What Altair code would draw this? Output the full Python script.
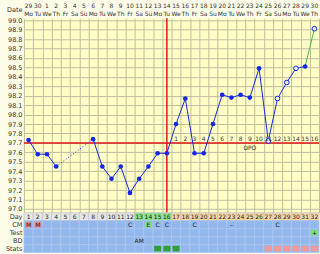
import altair as alt
import pandas as pd

# ---------------- data ----------------
days = [1, 2, 3, 4, 5, 6, 7, 8, 9, 10, 11, 12, 13, 14, 15, 16,
        17, 18, 19, 20, 21, 22, 23, 24, 25, 26, 27, 28, 29, 30, 31, 32]
date_numbers = ["29", "30", "1", "2", "3", "4", "5", "6", "7", "8", "9", "10",
                "11", "12", "13", "14", "15", "16", "17", "18", "19", "20", "21",
                "22", "23", "24", "25", "26", "27", "28", "29", "30"]
weekdays = ["Mo", "Tu", "We", "Th", "Fr", "Sa", "Su", "Mo", "Tu", "We", "Th",
            "Fr", "Sa", "Su", "Mo", "Tu", "We", "Th", "Fr", "Sa", "Su", "Mo",
            "Tu", "We", "Th", "Fr", "Sa", "Su", "Mo", "Tu", "We", "Th"]
temps = [97.73, 97.58, 97.58, 97.45, None, None, None, 97.74, 97.45, 97.32,
         97.45, 97.17, 97.32, 97.45, 97.59, 97.59, 97.90, 98.17, 97.59, 97.59,
         97.90, 98.21, 98.18, 98.21, 98.18, 98.49, 97.72, 98.17, 98.34, 98.49,
         98.51, 98.91]
hollow_days = [27, 28, 29, 30, 32]
dotted_days = [4, 8]
green_days = [31, 32]
coverline = [97.7]
ovulation_day = [16]
dpo_days = [17, 18, 19, 20, 21, 22, 23, 24, 25, 26, 27, 28, 29, 30, 31, 32]
dpo_numbers = ["1", "2", "3", "4", "5", "6", "7", "8", "9", "10", "11", "12",
               "13", "14", "15", "16"]
dpo_label_day = [25]
temp_ticks = [97.0, 97.1, 97.2, 97.3, 97.4, 97.5, 97.6, 97.7, 97.8, 97.9, 98.0,
              98.1, 98.2, 98.3, 98.4, 98.5, 98.6, 98.7, 98.8, 98.9, 99.0]

fertile_days = [13, 14, 15, 16]
row_names = ["Day", "CM", "Test", "BD", "Stats"]
cm_days = [1, 2, 12, 14, 15, 16, 19, 23, 28]
cm_text = ["M", "M", "C", "E", "C", "C", "C", "\u2013", "C"]
cm_box_days = [1, 2, 14]
cm_box_colors = ["#f08a8a", "#f08a8a", "#7ce07c"]
test_days = [32]
test_text = ["+"]
bd_days = [13]
bd_text = ["AM"]
stats_green_days = [15, 16, 17]
stats_red_days = [27, 28, 29, 30, 31, 32]

# ---------------- styles ----------------
BG = "#fcfce8"
PLOT = "#ffffc6"
GRID = "#bfbfa2"
BLUE = "#1428e6"
GREEN_LINE = "#44c044"
RED = "#e01818"
CELL_BLUE = "#92b8ee"
TXT = "#333333"
FONT = "DejaVu Sans"

xs = alt.Scale(domain=[0, 32], nice=False, zero=False)
ys = alt.Scale(domain=[96.96, 99.02], nice=False, zero=False)

x_grid_axis = alt.Axis(values=list(range(33)), grid=True, gridColor=GRID,
                       labels=False, ticks=False, domain=False, title=None,
                       minExtent=0, maxExtent=0)
y_axis = alt.Axis(values=temp_ticks, format=".1f", grid=True, gridColor=GRID,
                  ticks=False, domain=False, title=None, labelPadding=2,
                  minExtent=24, maxExtent=24, labelFontSize=6.5)

# ---------------- header ----------------
hdf = pd.DataFrame({"c": [d - 0.5 for d in days], "num": date_numbers, "wd": weekdays})
hys = alt.Scale(domain=[0, 2], nice=False, zero=False)
h_axis = alt.Axis(values=[1], labelExpr="'Date'", ticks=False, domain=False,
                  grid=False, title=None, labelPadding=2, minExtent=24,
                  maxExtent=24, labelFontSize=6.5)
h_num = alt.Chart(hdf).mark_text(fontSize=6, color=TXT, font=FONT).encode(
    x=alt.X("c:Q", scale=xs, axis=None),
    y=alt.YDatum(1.4, scale=hys, axis=h_axis),
    text="num:N",
)
h_wd = alt.Chart(hdf).mark_text(fontSize=6, color=TXT, font=FONT).encode(
    x=alt.X("c:Q", scale=xs, axis=None),
    y=alt.YDatum(0.5, scale=hys, axis=h_axis),
    text="wd:N",
)
header = alt.layer(h_num, h_wd).properties(width=296, height=18)

# ---------------- main plot ----------------
tdf = pd.DataFrame({"day": days, "t": temps})
tdf["c"] = tdf["day"] - 0.5
tdf = tdf.dropna()
solid = tdf[(tdf["day"] <= 4) | ((tdf["day"] >= 8) & (tdf["day"] <= 31))].copy()
solid["seg"] = ["a" if d <= 4 else "b" for d in solid["day"]]
dotted = tdf[tdf["day"].isin(dotted_days)]
green = tdf[tdf["day"].isin(green_days)]
filled_pts = tdf[~tdf["day"].isin(hollow_days)]
hollow_pts = tdf[tdf["day"].isin(hollow_days)]

X = alt.X("c:Q", scale=xs, axis=x_grid_axis)
Y = alt.Y("t:Q", scale=ys, axis=y_axis)

cover_df = pd.DataFrame({"t": coverline})
ov_df = pd.DataFrame({"c": [d - 0.5 for d in ovulation_day]})
dpo_df = pd.DataFrame({"c": [d - 0.5 for d in dpo_days], "n": dpo_numbers})
dpo_lab = pd.DataFrame({"c": [d - 0.5 for d in dpo_label_day], "s": ["DPO"]})

l_line = alt.Chart(solid).mark_line(color=BLUE, strokeWidth=1).encode(x=X, y=Y, detail="seg:N")
l_dot = alt.Chart(dotted).mark_line(color=BLUE, strokeWidth=1, strokeDash=[1, 2]).encode(x=X, y=Y)
l_green = alt.Chart(green).mark_line(color=GREEN_LINE, strokeWidth=1).encode(x=X, y=Y)
l_cover = alt.Chart(cover_df).mark_rule(color=RED, strokeWidth=1.5).encode(y=Y)
l_ov = alt.Chart(ov_df).mark_rule(color=RED, strokeWidth=1.5).encode(x=X)
l_pts = alt.Chart(filled_pts).mark_circle(size=22, color=BLUE, opacity=1).encode(x=X, y=Y)
l_hol = alt.Chart(hollow_pts).mark_circle(size=22, fill="#eef0ff", stroke=BLUE,
                                          strokeWidth=1, opacity=1).encode(x=X, y=Y)
l_dpo = alt.Chart(dpo_df).mark_text(fontSize=6, color=TXT, font=FONT).encode(
    x=X, y=alt.YDatum(97.745, scale=ys, axis=y_axis), text="n:N")
l_dpol = alt.Chart(dpo_lab).mark_text(fontSize=6, color=TXT, font=FONT).encode(
    x=X, y=alt.YDatum(97.65, scale=ys, axis=y_axis), text="s:N")

main = alt.layer(l_cover, l_ov, l_dot, l_line, l_green, l_pts, l_hol, l_dpo, l_dpol).properties(
    width=296, height=195, view=alt.ViewBackground(fill=PLOT, stroke=None))

# ---------------- table ----------------
row_lo = {"Day": 4, "CM": 3, "Test": 2, "BD": 1, "Stats": 0}
cells = []
for r in row_names:
    for d in days:
        if r == "Day":
            if d in fertile_days:
                col = "#84e484"
            elif d > max(fertile_days):
                col = "#f8d4a2"
            else:
                col = "#e6e6e6"
            sc = "#c8c8c8"
        else:
            col = CELL_BLUE
            sc = "#abc5ec"
        cells.append({"x0": d - 1, "x1": d, "y0": row_lo[r], "y1": row_lo[r] + 1,
                      "col": col, "sc": sc})
cells_df = pd.DataFrame(cells)

boxes = []
for d, col in zip(cm_box_days, cm_box_colors):
    boxes.append({"d": d, "r": "CM", "col": col})
for d in test_days:
    boxes.append({"d": d, "r": "Test", "col": "#7ce07c"})
for d in stats_green_days:
    boxes.append({"d": d, "r": "Stats", "col": "#2f9e3a"})
for d in stats_red_days:
    boxes.append({"d": d, "r": "Stats", "col": "#f29a9a"})
boxes_df = pd.DataFrame(boxes)
boxes_df["x0"] = boxes_df["d"] - 1 + 0.12
boxes_df["x1"] = boxes_df["d"] - 0.12
boxes_df["y0"] = boxes_df["r"].map(row_lo) + 0.15
boxes_df["y1"] = boxes_df["r"].map(row_lo) + 0.85

texts = []
for d in days:
    texts.append({"d": d, "r": "Day", "s": str(d)})
for d, s in zip(cm_days, cm_text):
    texts.append({"d": d, "r": "CM", "s": s})
for d, s in zip(test_days, test_text):
    texts.append({"d": d, "r": "Test", "s": s})
for d, s in zip(bd_days, bd_text):
    texts.append({"d": d, "r": "BD", "s": s})
texts_df = pd.DataFrame(texts)
texts_df["c"] = texts_df["d"] - 0.5
texts_df["ym"] = texts_df["r"].map(row_lo) + 0.5

tys = alt.Scale(domain=[0, 5], nice=False, zero=False)
t_axis = alt.Axis(values=[4.5, 3.5, 2.5, 1.5, 0.5],
                  labelExpr="['Stats','BD','Test','CM','Day'][floor(datum.value)]",
                  ticks=False, domain=False, grid=False, title=None,
                  labelPadding=2, minExtent=24, maxExtent=24, labelFontSize=6.5)
TX = alt.X("x0:Q", scale=xs, axis=None)

t_cells = alt.Chart(cells_df).mark_rect(strokeWidth=0.8).encode(
    x=TX, x2="x1:Q", y=alt.Y("y0:Q", scale=tys, axis=t_axis), y2="y1:Q",
    color=alt.Color("col:N", scale=None), stroke=alt.Stroke("sc:N", scale=None))
t_boxes = alt.Chart(boxes_df).mark_rect().encode(
    x=TX, x2="x1:Q", y=alt.Y("y0:Q", scale=tys, axis=t_axis), y2="y1:Q",
    color=alt.Color("col:N", scale=None))
t_text = alt.Chart(texts_df).mark_text(fontSize=6, color="#222222", font=FONT).encode(
    x=alt.X("c:Q", scale=xs, axis=None), y=alt.Y("ym:Q", scale=tys, axis=t_axis),
    text="s:N")
table = alt.layer(t_cells, t_boxes, t_text).properties(width=296, height=40)

chart = alt.vconcat(header, main, table, spacing=0, bounds="flush").properties(
    background=BG, padding=0
).configure_view(stroke=None).configure_axis(
    labelFont=FONT, labelColor=TXT
)

chart.save("out.html", embed_options={"renderer": "svg", "actions": False})
